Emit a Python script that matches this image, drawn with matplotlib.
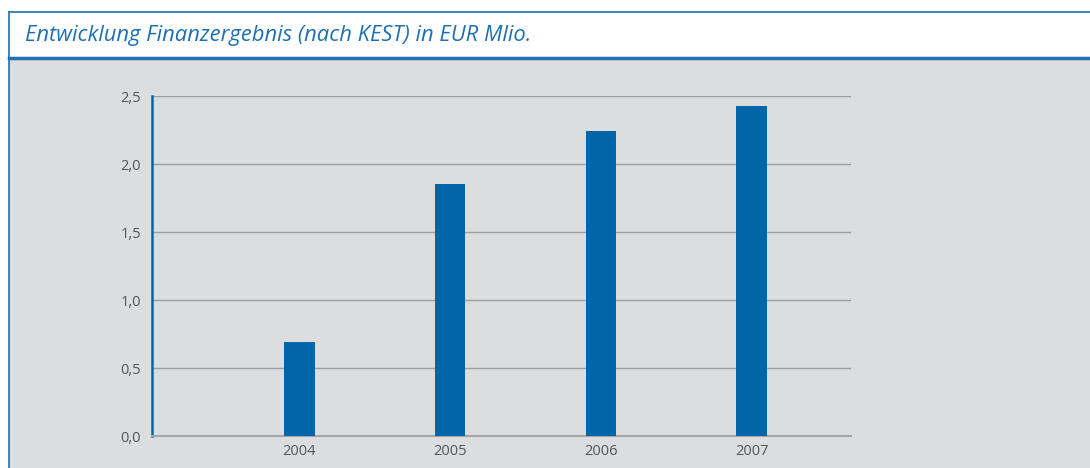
import numpy as np
import matplotlib.pyplot as plt
from matplotlib.patches import Rectangle
from matplotlib.lines import Line2D

years = ['2004', '2005', '2006', '2007']
finanzergebnis = [0.69, 1.85, 2.24, 2.43]
y_ticks = [0.0, 0.5, 1.0, 1.5, 2.0, 2.5]
y_labels = ['0,0', '0,5', '1,0', '1,5', '2,0', '2,5']

title = 'Entwicklung Finanzergebnis (nach KEST) in EUR Mlio.'

blue = '#0066a8'
frame_blue = '#1f6fb2'
panel = '#dcdddf'
grid_col = '#9d9d9d'
text_col = '#555555'

W, H = 1090, 468
fig = plt.figure(figsize=(W / 100, H / 100), dpi=100)
fig.patch.set_facecolor('white')

# frame: white title band on top, grey panel below, blue rules
fig.patches.append(Rectangle((9 / W, 0), 1, (H - 58) / H, transform=fig.transFigure,
                             facecolor=panel, edgecolor='none', zorder=-5))
fig.lines.append(Line2D([9 / W, 9 / W], [0, (H - 11.5) / H], transform=fig.transFigure,
                        color=frame_blue, lw=1.2, zorder=-4))
fig.lines.append(Line2D([9 / W, 1], [(H - 11.5) / H] * 2, transform=fig.transFigure,
                        color=frame_blue, lw=1.2, zorder=-4))
fig.lines.append(Line2D([9 / W, 1], [(H - 58) / H] * 2, transform=fig.transFigure,
                        color=frame_blue, lw=2.5, zorder=-4))
fig.text(25 / W, (H - 41) / H, title, color=frame_blue, fontsize=15.8,
         style='italic', family='Open Sans', va='baseline', ha='left')

ax = fig.add_axes([152 / W, 32 / H, 699 / W, 340 / H])
ax.set_facecolor(panel)
x = np.arange(len(years))
ax.bar(x, finanzergebnis, width=0.205, color=blue, zorder=3)

ax.set_xlim(-0.974, 3.656)
ax.set_ylim(0, 2.5)
ax.set_yticks(y_ticks)
ax.set_yticklabels(y_labels)
ax.set_xticks(x)
ax.set_xticklabels(years)
ax.yaxis.grid(True, color=grid_col, lw=1.0, zorder=1)
ax.set_axisbelow(True)
ax.tick_params(length=0, colors=text_col, labelsize=10.5)
ax.tick_params(axis='y', pad=8)
ax.tick_params(axis='x', pad=6)
for lab in ax.get_xticklabels() + ax.get_yticklabels():
    lab.set_family('Open Sans')

for s in ['top', 'right']:
    ax.spines[s].set_visible(False)
ax.spines['bottom'].set_color('#a5a5a5')
ax.spines['bottom'].set_linewidth(1.5)
ax.spines['left'].set_color(blue)
ax.spines['left'].set_linewidth(1.8)

plt.savefig('out.png', dpi=100)
